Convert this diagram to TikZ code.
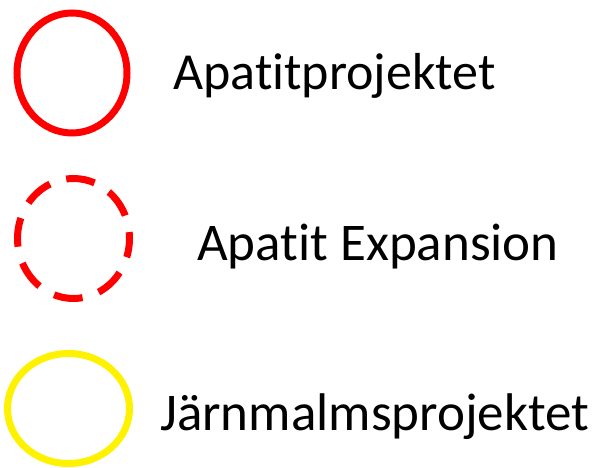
\documentclass[tikz,border=0pt]{standalone}
\usepackage{fontspec}
\setmainfont[Ligatures={NoCommon}]{Carlito}
\begin{document}
\begin{tikzpicture}[x=1pt,y=-1pt,
  ring/.style={line width=7pt},
  lbl/.style={anchor=base west,inner sep=0pt,font=\fontsize{52}{56}\selectfont},
  lblb/.style={lbl,font=\fontsize{53}{57}\selectfont}]
\useasboundingbox (0,0) rectangle (602,468);
\draw[ring,red] (72,73) ellipse [x radius=55, y radius=60];
\draw[ring,red,dash pattern=on 29pt off 17pt,dash phase=10pt] (73.5,238.5) ellipse [x radius=56, y radius=60];
\draw[ring,yellow] (68.5,408.5) ellipse [x radius=61, y radius=55];
\node[lbl] (t1) at (173,90) {Apatitprojektet};
\node[lblb] (t2) at (197,260) {Apatit Expansion};
\node[lblb] (t3) at (160,430) {Järnmalmsprojektet};
\end{tikzpicture}
\end{document}
